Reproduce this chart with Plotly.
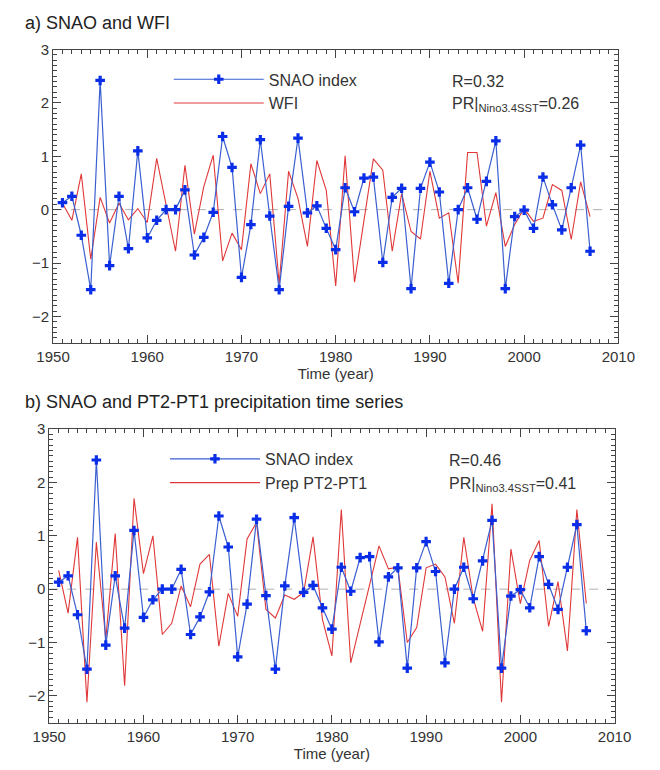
import plotly.graph_objects as go

years = list(range(1951, 2008))

snao = [0.13, 0.25, -0.48, -1.50, 2.42, -1.05, 0.25, -0.73, 1.10, -0.53,
        -0.20, 0.00, 0.00, 0.37, -0.85, -0.52, -0.05, 1.37, 0.79, -1.27,
        -0.28, 1.31, -0.12, -1.50, 0.06, 1.34, -0.06, 0.07, -0.35, -0.75,
        0.41, -0.04, 0.59, 0.61, -0.99, 0.23, 0.40, -1.48, 0.40, 0.89,
        0.33, -1.38, 0.00, 0.41, -0.18, 0.53, 1.29, -1.48, -0.13, -0.01,
        -0.35, 0.61, 0.09, -0.38, 0.41, 1.21, -0.78]

wfi = [0.12, -0.20, 0.67, -0.93, 0.23, -0.25, 0.12, -0.19, 0.02, -0.24,
       0.96, 0.10, -0.78, 0.83, -0.46, 0.43, 1.02, -0.96, -0.44, -0.75,
       0.86, 0.30, 0.67, -1.39, 0.72, 0.21, -0.69, 0.92, 0.36, -1.43,
       1.01, -1.36, -0.20, 0.95, 0.74, -0.78, 0.30, -0.41, -0.55, 0.72,
       -0.16, -0.06, -1.38, 1.07, 1.07, -0.31, 0.32, -0.69, -0.28, 0.02,
       -0.22, -0.16, 0.47, 0.36, -0.56, 0.52, -0.13]

prep = [0.35, -0.45, 0.97, -2.12, 0.88, -0.94, 1.04, -1.81, 1.70, 0.29,
        1.00, -0.85, -0.64, 0.06, -0.33, 0.47, 0.65, -1.07, -0.08, -0.51,
        0.94, 1.25, -0.38, -0.54, -0.11, -0.19, -0.06, 0.98, -0.57, -1.25,
        1.49, -1.38, -0.65, 0.10, 0.81, 0.38, 0.41, -1.00, -0.72, 0.40,
        0.47, 0.23, -0.64, 0.97, -0.17, -0.79, 1.60, -2.12, 0.75, -0.27,
        0.54, 0.91, -0.70, 0.14, -1.16, 1.49, -0.27]

panel_titles = ["a) SNAO and WFI", "b) SNAO and PT2-PT1 precipitation time series"]
second_names = ["WFI", "Prep PT2-PT1"]
r_texts = ["R=0.32", "R=0.46"]
pr_texts = ["PR|<sub>Nino3.4SST</sub>=0.26", "PR|<sub>Nino3.4SST</sub>=0.41"]
x_ticks = [1950, 1960, 1970, 1980, 1990, 2000, 2010]
y_ticks = [-2, -1, 0, 1, 2, 3]

W, H = 660, 770
BLUE_LINE = "#3a5fd0"
BLUE_MK = "#0a2ee8"
RED = "#e03838"
TXT = "#333333"
AX = "#444444"
FONT = "Liberation Sans, Arial, sans-serif"

# pixel boxes [left, right, top, bottom]
boxes = [(38, 634, 41, 338), (34, 630, 425, 722)]

# axis ids per panel: main x, main y, top x, right y
ids = [("x", "y", "x3", "y3"), ("x2", "y2", "x4", "y4")]

fig = go.Figure()
for i, second in enumerate([wfi, prep]):
    xa, ya, xt, yr = ids[i]
    lg = "legend" if i == 0 else "legend2"
    fig.add_trace(go.Scatter(x=years, y=second, mode="lines", name=second_names[i],
                             line=dict(color=RED, width=1.1),
                             xaxis=xa, yaxis=ya, legend=lg, legendrank=2))
    fig.add_trace(go.Scatter(x=years, y=snao, mode="lines+markers", name="SNAO index",
                             line=dict(color=BLUE_LINE, width=1.2),
                             marker=dict(symbol="cross", size=8, color=BLUE_MK),
                             xaxis=xa, yaxis=ya, legend=lg, legendrank=1))
    # invisible helper traces so the mirrored tick axes (top / right) are drawn
    fig.add_trace(go.Scatter(x=years[:1], y=snao[:1], mode="markers", opacity=0,
                             showlegend=False, hoverinfo="skip", xaxis=xt, yaxis=ya))
    fig.add_trace(go.Scatter(x=years[:1], y=snao[:1], mode="markers", opacity=0,
                             showlegend=False, hoverinfo="skip", xaxis=xa, yaxis=yr))

tickfont = dict(family=FONT, size=15, color=TXT)
for i, box in enumerate(boxes):
    l, r, t, b = box
    xd = [l / W, r / W]
    yd = [1 - b / H, 1 - t / H]
    xa, ya, xt, yr = ids[i]
    xk, yk = "xaxis" + xa[1:], "yaxis" + ya[1:]
    xtk, yrk = "xaxis" + xt[1:], "yaxis" + yr[1:]
    fig.update_layout(**{
        xk: dict(domain=xd, range=[1950, 2010], tickvals=x_ticks, ticks="inside", ticklen=8,
                 tickcolor=AX, anchor=ya, showline=True, linecolor=AX, linewidth=1, mirror=True,
                 showgrid=False, zeroline=False, tickfont=tickfont,
                 minor=dict(dtick=1, ticks="inside", ticklen=4, tickcolor=AX),
                 title=dict(text="Time (year)", font=dict(family=FONT, size=15, color=TXT), standoff=2)),
        yk: dict(domain=yd, range=[-2.5, 3], tickvals=y_ticks, ticks="inside", ticklen=8,
                 tickcolor=AX, anchor=xa, showline=True, linecolor=AX, linewidth=1, mirror=True,
                 showgrid=False, zeroline=False, tickfont=tickfont,
                 minor=dict(dtick=0.1, ticks="inside", ticklen=4, tickcolor=AX)),
        xtk: dict(overlaying=xa, side="top", anchor=ya, range=[1950, 2010], tickvals=x_ticks,
                  ticks="inside", ticklen=8, tickcolor=AX, showticklabels=False,
                  showgrid=False, zeroline=False, showline=False,
                  minor=dict(dtick=1, ticks="inside", ticklen=4, tickcolor=AX)),
        yrk: dict(overlaying=ya, side="right", anchor=xa, range=[-2.5, 3], tickvals=y_ticks,
                  ticks="inside", ticklen=8, tickcolor=AX, showticklabels=False,
                  showgrid=False, zeroline=False, showline=False,
                  minor=dict(dtick=0.1, ticks="inside", ticklen=4, tickcolor=AX)),
    })
    # dashed zero line
    fig.add_shape(type="line", xref=xa, yref=ya, x0=1950, x1=2010, y0=0, y1=0,
                  line=dict(color="#b0b0b0", width=1, dash="dash"), layer="below")
    # panel title
    fig.add_annotation(text=panel_titles[i], xref="paper", yref="paper",
                       x=6 / W, y=1 - (t - 27) / H, xanchor="left", yanchor="middle",
                       showarrow=False, font=dict(family=FONT, size=18, color="#222"))
    # stats
    fig.add_annotation(text=r_texts[i], xref="paper", yref="paper",
                       x=(l + 419) / W, y=1 - (t + 32) / H, xanchor="left", yanchor="middle",
                       showarrow=False, font=dict(family=FONT, size=16, color=TXT))
    fig.add_annotation(text=pr_texts[i], xref="paper", yref="paper",
                       x=(l + 419) / W, y=1 - (t + 56) / H, xanchor="left", yanchor="middle",
                       showarrow=False, font=dict(family=FONT, size=16, color=TXT))

legend_common = dict(bgcolor="rgba(0,0,0,0)", borderwidth=0, itemwidth=90,
                     font=dict(family=FONT, size=16, color=TXT), tracegroupgap=0,
                     xanchor="left", yanchor="top", traceorder="normal")
fig.update_layout(
    width=W, height=H, margin=dict(l=0, r=0, t=0, b=0),
    paper_bgcolor="white", plot_bgcolor="white",
    legend=dict(x=160 / W, y=1 - 54 / H, **legend_common),
    legend2=dict(x=156 / W, y=1 - 438 / H, **legend_common),
)

fig.write_html("out.html")
